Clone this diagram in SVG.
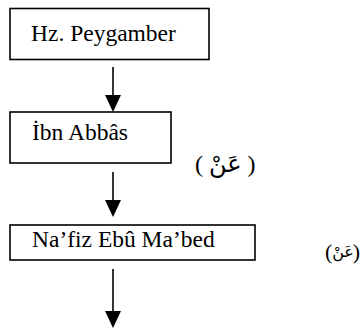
<svg xmlns="http://www.w3.org/2000/svg" width="361" height="331" viewBox="0 0 361 331">
<style>
.box{fill:#fff;stroke:#000;stroke-width:1.6}
.t{font-family:"Liberation Serif","Times New Roman",serif;font-size:23.5px;fill:#000}
.ar{font-family:"Liberation Serif","DejaVu Sans",serif;fill:#000}
.ln{stroke:#000;stroke-width:1.6;fill:none}
</style>
<rect width="361" height="331" fill="#fff"/>
<g id="n1"><rect class="box" x="10" y="8.5" width="199" height="51"/><text class="t" x="31" y="41">Hz. Peygamber</text></g>
<g id="n2"><rect class="box" x="10" y="112" width="161" height="51"/><text class="t" x="32" y="140">İbn Abbâs</text></g>
<g id="l2"><text class="ar" x="195" y="172" font-size="24">( عَنْ )</text></g>
<g id="n3"><rect class="box" x="10" y="225" width="245" height="35"/><text class="t" x="32" y="247">Na’fiz Ebû Ma’bed</text></g>
<g id="l3" class="ar" font-size="22"><text x="325" y="259">(</text><text x="343" y="257" font-size="16" text-anchor="middle">عَنْ</text><text x="360" y="259" text-anchor="end">)</text></g>
<g id="edges">
<path class="ln" d="M113,67 V95"/><path d="M105,95 H121 L113,112 Z"/>
<path class="ln" d="M113,172 V200"/><path d="M105,200 H121 L113,217 Z"/>
<path class="ln" d="M113,269 V311"/><path d="M105,311 H121 L113,328 Z"/>
</g>
</svg>
